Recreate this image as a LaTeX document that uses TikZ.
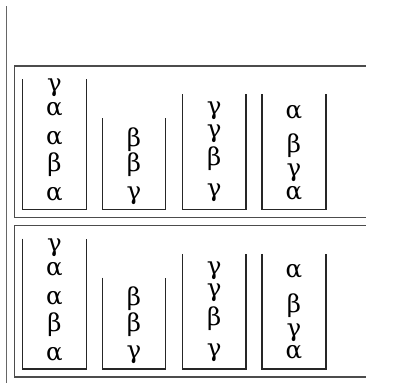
\documentclass[tikz,border=0pt]{standalone}
\usepackage{fontspec}
\setmainfont{DejaVu Serif}
\begin{document}
\begin{tikzpicture}[x=1pt,y=-1pt,
  frame/.style={draw=black!70,line width=1.3pt},
  cup/.style={draw=black!85,line width=1.1pt},
  rail/.style={draw=black!60,line width=1.5pt},
  sym/.style={inner sep=0pt,font=\fontsize{24.5}{29}\selectfont}]
\useasboundingbox (0,0) rectangle (404,383);
\draw[rail] (6.5,6) -- (6.5,383);
\foreach \dy/\p in {0/a,159.5/b}{
 \begin{scope}[shift={(0,\dy)}]
  \draw[frame] (365.5,66) -- (14.5,66) -- (14.5,217.5) -- (365.5,217.5);
  % cups
  \draw[cup] (22.5,79) -- (22.5,209.5) -- (86.5,209.5) -- (86.5,79);
  \draw[cup] (102.7,118) -- (102.7,209.5) -- (165.7,209.5) -- (165.7,118);
  \draw[cup] (182.7,94.3) -- (182.7,209.5) -- (246,209.5) -- (246,94.3);
  \draw[cup] (262,94.3) -- (262,209.5) -- (326,209.5) -- (326,94.3);
  % stack 1
  \node[sym] (\p s1a) at (54.5,88) {γ};
  \node[sym] (\p s1b) at (54.5,109.5) {α};
  \node[sym] (\p s1c) at (54.5,138.5) {α};
  \node[sym] (\p s1d) at (54.5,165) {β};
  \node[sym] (\p s1e) at (54.5,194.5) {α};
  % stack 2
  \node[sym] (\p s2a) at (134,139.5) {β};
  \node[sym] (\p s2b) at (134,165) {β};
  \node[sym] (\p s2c) at (134,195.5) {γ};
  % stack 3
  \node[sym] (\p s3a) at (214.3,111) {γ};
  \node[sym] (\p s3b) at (214.3,133.5) {γ};
  \node[sym] (\p s3c) at (214.3,159) {β};
  \node[sym] (\p s3d) at (214.3,193) {γ};
  % stack 4
  \node[sym] (\p s4a) at (294,112) {α};
  \node[sym] (\p s4b) at (294,146) {β};
  \node[sym] (\p s4c) at (294,173) {γ};
  \node[sym] (\p s4d) at (294,193) {α};
 \end{scope}
}
\end{tikzpicture}
\end{document}
